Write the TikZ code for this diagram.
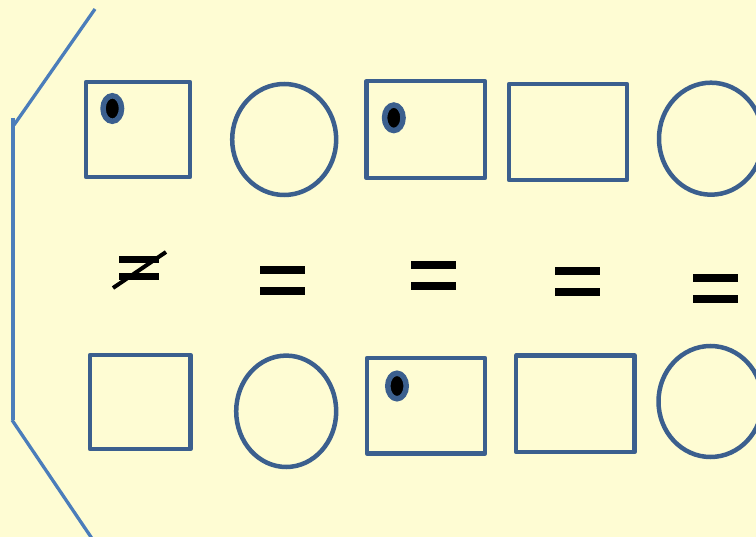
\documentclass[tikz,border=0pt]{standalone}
\usetikzlibrary{shapes.geometric}
\definecolor{bg}{HTML}{FEFCD3}
\definecolor{shapeblue}{HTML}{3B5F8E}
\definecolor{bracketblue}{HTML}{4B7DBA}
\begin{document}
\begin{tikzpicture}[x=1pt,y=-1pt,
  box/.style={draw=shapeblue,line width=4.5pt,rectangle,inner sep=0pt,line join=round},
  oval/.style={draw=shapeblue,line width=4.5pt,ellipse,inner sep=0pt},
  dotmark/.style={draw=shapeblue,fill=black,line width=5.5pt,ellipse,inner sep=0pt,minimum width=18.5pt,minimum height=25.5pt},
  bracket/.style={draw=bracketblue,line width=3.3pt},
  pics/eqsign/.style={code={
    \fill[black] (-22.5,-14.5) rectangle (22.5,-6.5);
    \fill[black] (-22.5,6.5) rectangle (22.5,14.5);}},
  pics/neqsign/.style={code={
    \fill[black] (-20,-12) rectangle (20,-5);
    \fill[black] (-20,5) rectangle (20,12);
    \draw[black,line width=4pt] (-26,20) -- (27,-16);}}]
\fill[bg] (0,0) rectangle (756,537);
\useasboundingbox (0,0) rectangle (756,537);
% bracket
\coordinate (t0) at (95,9);
\coordinate (t1) at (14,125);
\coordinate (v0) at (13,118);
\coordinate (v1) at (13,420);
\coordinate (u0) at (12,420);
\coordinate (u1) at (93,540);
\draw[bracket] (t0) -- (t1);
\draw[bracket] (v0) -- (v1);
\draw[bracket] (u0) -- (u1);
% top row
\node[box,minimum width=104pt,minimum height=95pt] (r1a) at (138,129.5) {};
\node[oval,minimum width=104pt,minimum height=111pt] (r1b) at (284.2,139.5) {};
\node[box,minimum width=118.5pt,minimum height=96.8pt] (r1c) at (425.75,129.6) {};
\node[box,minimum width=118pt,minimum height=96pt] (r1d) at (568,132) {};
\node[oval,minimum width=104pt,minimum height=112pt] (r1e) at (711,138.7) {};
% bottom row
\node[box,minimum width=100.5pt,minimum height=94pt] (r2a) at (140.25,402) {};
\node[oval,minimum width=100pt,minimum height=111.4pt] (r2b) at (286.2,411.3) {};
\node[box,minimum width=118pt,minimum height=95.5pt] (r2c) at (426,405.75) {};
\node[box,minimum width=118.3pt,minimum height=96.5pt] (r2d) at (575.35,403.75) {};
\node[oval,minimum width=104pt,minimum height=111pt] (r2e) at (710.5,401.5) {};
% dots
\node[dotmark] (d1) at (112.3,108.5) {};
\node[dotmark] (d2) at (393.8,117.8) {};
\node[dotmark] (d3) at (397,386) {};
% relation signs
\pic at (139,268) {neqsign};
\pic at (282.5,280.5) {eqsign};
\pic at (433.3,275.5) {eqsign};
\pic at (577,281.5) {eqsign};
\pic at (715.3,288.2) {eqsign};
\end{tikzpicture}
\end{document}
